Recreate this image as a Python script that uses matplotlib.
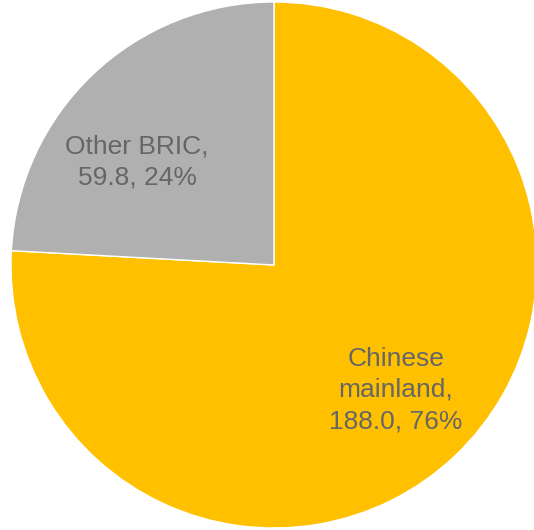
import numpy as np
import matplotlib.pyplot as plt

labels = ['Chinese\nmainland', 'Other BRIC']
values = [188.0, 59.8]
colors = ['#FFC000', '#B0B0B0']
label_pos = [(0.464, -0.475), (-0.521, 0.392)]

plt.rcParams['font.family'] = ['Liberation Sans', 'DejaVu Sans']

fig = plt.figure(figsize=(5.34, 5.30), dpi=100)
ax = fig.add_axes([0, 0, 1, 1])
r = 263.0
ax.pie(values, colors=colors, startangle=90, counterclock=False,
       wedgeprops=dict(edgecolor='white', linewidth=1.0))
ax.set_xlim(-274 / r, (534 - 274) / r)
ax.set_ylim(-265 / r, 265 / r)
ax.set_aspect('equal')
ax.axis('off')

total = sum(values)
for lab, v, (x, y) in zip(labels, values, label_pos):
    pct = v / total * 100
    ax.text(x, y, '%s,\n%.1f, %d%%' % (lab, v, round(pct)),
            ha='center', va='center', fontsize=19, color='#666666',
            linespacing=1.38)

fig.savefig('out.png', dpi=100)
